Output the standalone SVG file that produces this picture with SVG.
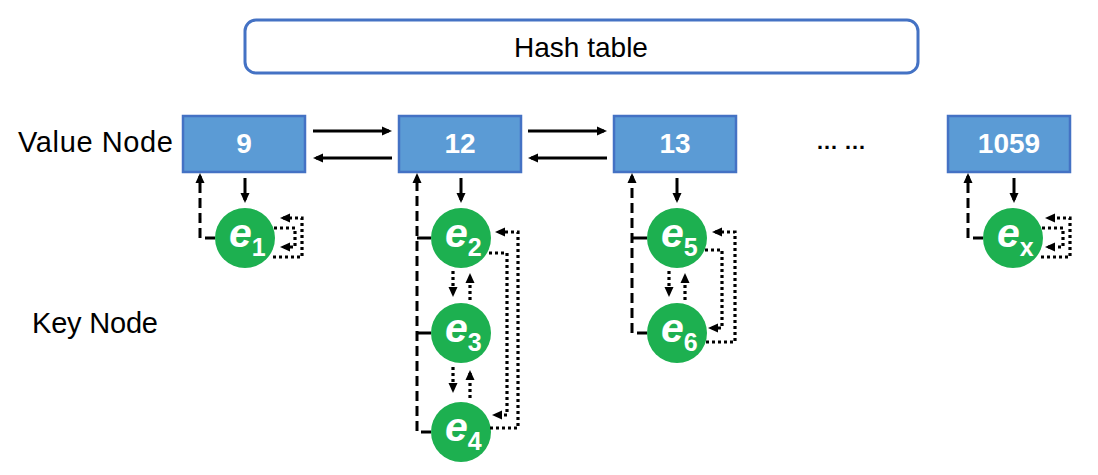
<svg xmlns="http://www.w3.org/2000/svg" width="1098" height="475" viewBox="0 0 1098 475">
<style>
  .lbl{font-family:"Liberation Sans",Arial,sans-serif;fill:#000}
  .vbox{fill:#5B9BD5;stroke:#4472C4;stroke-width:2.5}
  .vtxt{font-family:"Liberation Sans",Arial,sans-serif;font-weight:bold;font-size:28px;fill:#fff;text-anchor:middle}
  .knode{fill:#1DB050}
  .ktxt{font-family:"Liberation Sans",Arial,sans-serif;font-weight:bold;fill:#fff}
  .ke{font-size:41px;font-style:italic}
  .ks{font-size:25px}
  .solid{fill:none;stroke:#000;stroke-width:3;marker-end:url(#ah)}
  .dash{fill:none;stroke:#000;stroke-width:3;stroke-dasharray:10 5;marker-end:url(#ah)}
  .stub{fill:none;stroke:#000;stroke-width:3}
  .dot{fill:none;stroke:#000;stroke-width:3.2;stroke-dasharray:3 3;marker-end:url(#ah)}
</style>
<defs>
  <marker id="ah" viewBox="0 0 10 10" refX="7" refY="5" markerWidth="10" markerHeight="10" markerUnits="userSpaceOnUse" orient="auto">
    <path d="M0,0.5 L10,5 L0,9.5 z" fill="#000"/>
  </marker>
</defs>
<rect width="1098" height="475" fill="#fff"/>

<g id="hash-table">
  <rect x="245" y="20" width="673" height="53" rx="11" ry="11" fill="#fff" stroke="#4472C4" stroke-width="3"/>
  <text class="lbl" x="581" y="57" font-size="28" text-anchor="middle">Hash table</text>
</g>

<g id="labels">
  <text class="lbl" x="18" y="152" font-size="29" textLength="155">Value Node</text>
  <text class="lbl" x="32" y="333" font-size="29" textLength="126">Key Node</text>
</g>

<g id="v9">
  <rect class="vbox" x="183" y="116" width="122" height="56"/>
  <text class="vtxt" x="244" y="153">9</text>
</g>
<g id="v12">
  <rect class="vbox" x="399" y="116" width="122" height="56"/>
  <text class="vtxt" x="460" y="153">12</text>
</g>
<g id="v13">
  <rect class="vbox" x="614" y="116" width="122" height="56"/>
  <text class="vtxt" x="675" y="153">13</text>
</g>
<g id="ellipsis">
  <text x="816" y="149" font-family="Liberation Sans, Arial, sans-serif" font-weight="bold" font-size="22" fill="#000">… …</text>
</g>
<g id="v1059">
  <rect class="vbox" x="948" y="116" width="122" height="56"/>
  <text class="vtxt" x="1009" y="153">1059</text>
</g>

<g id="e1">
  <circle class="knode" cx="245" cy="238" r="30"/>
  <text class="ktxt" x="229" y="247"><tspan class="ke">e</tspan><tspan class="ks" dy="9">1</tspan></text>
</g>
<g id="e2">
  <circle class="knode" cx="461" cy="238" r="30"/>
  <text class="ktxt" x="445" y="247"><tspan class="ke">e</tspan><tspan class="ks" dy="9">2</tspan></text>
</g>
<g id="e3">
  <circle class="knode" cx="461" cy="333" r="30"/>
  <text class="ktxt" x="445" y="342"><tspan class="ke">e</tspan><tspan class="ks" dy="9">3</tspan></text>
</g>
<g id="e4">
  <circle class="knode" cx="461" cy="432" r="30"/>
  <text class="ktxt" x="445" y="441"><tspan class="ke">e</tspan><tspan class="ks" dy="9">4</tspan></text>
</g>
<g id="e5">
  <circle class="knode" cx="677" cy="238" r="30"/>
  <text class="ktxt" x="661" y="247"><tspan class="ke">e</tspan><tspan class="ks" dy="9">5</tspan></text>
</g>
<g id="e6">
  <circle class="knode" cx="677" cy="333" r="30"/>
  <text class="ktxt" x="661" y="342"><tspan class="ke">e</tspan><tspan class="ks" dy="9">6</tspan></text>
</g>
<g id="ex">
  <circle class="knode" cx="1013" cy="238" r="30"/>
  <text class="ktxt" x="997" y="247"><tspan class="ke">e</tspan><tspan class="ks" dy="9">x</tspan></text>
</g>

<g id="connectors">
  <path class="solid" d="M313 131 H389"/>
  <path class="solid" d="M392 158 H316"/>
  <path class="solid" d="M528 131 H604"/>
  <path class="solid" d="M607 158 H531"/>
  <path class="solid" d="M245 178 V200"/>
  <path class="solid" d="M461 178 V200"/>
  <path class="solid" d="M677 178 V200"/>
  <path class="solid" d="M1014 178 V200"/>
  <path class="dash" d="M215 238 H200 V176"/>
  <path class="dash" d="M431 432 H417 V176"/>
  <path class="stub" d="M431 238 H417"/>
  <path class="stub" d="M431 333 H417"/>
  <path class="dash" d="M647 333 H632 V176"/>
  <path class="stub" d="M647 238 H632"/>
  <path class="dash" d="M983 238 H968 V176"/>
  <path class="dot" d="M274 228 H295 V247 H283"/>
  <path class="dot" d="M273 257 H302 V218 H283"/>
  <path class="dot" d="M453 271 V294"/>
  <path class="dot" d="M470 300 V276"/>
  <path class="dot" d="M453 367 V390"/>
  <path class="dot" d="M470 398 V373"/>
  <path class="dot" d="M489 253 H507 V415 H495"/>
  <path class="dot" d="M490 428 H518 V232 H498"/>
  <path class="dot" d="M669 271 V294"/>
  <path class="dot" d="M685 300 V276"/>
  <path class="dot" d="M705 250 H722 V328 H711"/>
  <path class="dot" d="M706 342 H735 V232 H715"/>
  <path class="dot" d="M1042 228 H1063 V247 H1048"/>
  <path class="dot" d="M1041 257 H1070 V218 H1048"/>
</g>
</svg>
